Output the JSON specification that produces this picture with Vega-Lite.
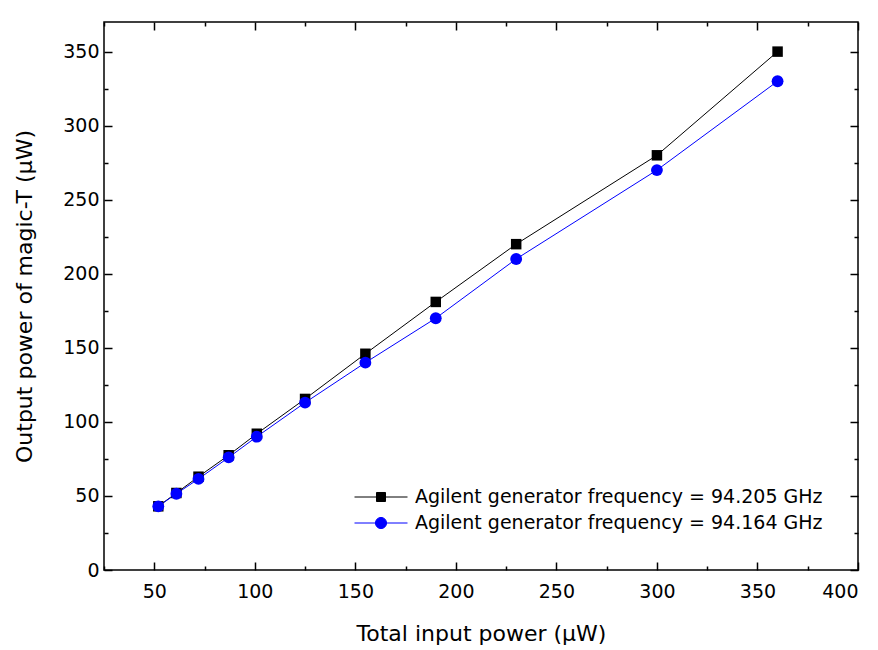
{
  "$schema": "https://vega.github.io/schema/vega-lite/v6.json",
  "width": 754,
  "height": 548,
  "autosize": {"type": "none"},
  "padding": {"left": 104, "top": 22, "right": 20, "bottom": 80},
  "background": "white",
  "config": {
    "font": "DejaVu Sans",
    "view": {"stroke": "black", "strokeWidth": 1.5},
    "axis": {"grid": false, "domain": false, "tickColor": "black", "tickWidth": 1.5, "labelColor": "black", "titleColor": "black", "labelFont": "DejaVu Sans", "titleFont": "DejaVu Sans"}
  },
  "data": {"values": [
    {"x": 52, "y": 43, "s": "Agilent generator frequency = 94.205 GHz"},
    {"x": 61, "y": 52, "s": "Agilent generator frequency = 94.205 GHz"},
    {"x": 72, "y": 63, "s": "Agilent generator frequency = 94.205 GHz"},
    {"x": 87, "y": 77.5, "s": "Agilent generator frequency = 94.205 GHz"},
    {"x": 101, "y": 92, "s": "Agilent generator frequency = 94.205 GHz"},
    {"x": 125, "y": 115.5, "s": "Agilent generator frequency = 94.205 GHz"},
    {"x": 155, "y": 146, "s": "Agilent generator frequency = 94.205 GHz"},
    {"x": 190, "y": 181, "s": "Agilent generator frequency = 94.205 GHz"},
    {"x": 230, "y": 220, "s": "Agilent generator frequency = 94.205 GHz"},
    {"x": 300, "y": 280, "s": "Agilent generator frequency = 94.205 GHz"},
    {"x": 360, "y": 350, "s": "Agilent generator frequency = 94.205 GHz"},
    {"x": 52, "y": 43, "s": "Agilent generator frequency = 94.164 GHz"},
    {"x": 61, "y": 51.5, "s": "Agilent generator frequency = 94.164 GHz"},
    {"x": 72, "y": 61.5, "s": "Agilent generator frequency = 94.164 GHz"},
    {"x": 87, "y": 76, "s": "Agilent generator frequency = 94.164 GHz"},
    {"x": 101, "y": 90, "s": "Agilent generator frequency = 94.164 GHz"},
    {"x": 125, "y": 113, "s": "Agilent generator frequency = 94.164 GHz"},
    {"x": 155, "y": 140, "s": "Agilent generator frequency = 94.164 GHz"},
    {"x": 190, "y": 170, "s": "Agilent generator frequency = 94.164 GHz"},
    {"x": 230, "y": 210, "s": "Agilent generator frequency = 94.164 GHz"},
    {"x": 300, "y": 270, "s": "Agilent generator frequency = 94.164 GHz"},
    {"x": 360, "y": 330, "s": "Agilent generator frequency = 94.164 GHz"}
  ]},
  "resolve": {"axis": {"x": "independent", "y": "independent"}},
  "layer": [
    {
      "mark": {"type": "line", "strokeWidth": 1},
      "encoding": {
        "x": {"field": "x", "type": "quantitative", "scale": {"domain": [25, 400], "nice": false, "zero": false},
          "axis": {"orient": "bottom", "values": [50,100,150,200,250,300,350,400], "tickSize": -8, "labelFontSize": 19, "labelPadding": 20, "title": "Total input power (µW)", "titleFontSize": 22, "titleFontWeight": "normal", "titlePadding": 22}},
        "y": {"field": "y", "type": "quantitative", "scale": {"domain": [0, 370], "nice": false},
          "axis": {"orient": "left", "values": [0,50,100,150,200,250,300,350], "tickSize": -8, "labelFontSize": 19, "labelPadding": 13, "title": "Output power of magic-T (μW)", "titleFontSize": 22, "titleFontWeight": "normal", "titlePadding": 26}},
        "color": {"field": "s", "type": "nominal", "sort": null,
          "scale": {"domain": ["Agilent generator frequency = 94.205 GHz", "Agilent generator frequency = 94.164 GHz"], "range": ["black", "#0000ff"]},
          "legend": {"title": null, "orient": "none", "legendX": 250, "legendY": 464, "labelFontSize": 19, "labelColor": "black", "labelLimit": 0, "symbolSize": 2809, "clipHeight": 22, "rowPadding": 4, "labelOffset": 7,
            "encode": {"symbols": {"update": {
              "shape": {"signal": "datum.value === 'Agilent generator frequency = 94.205 GHz' ? 'M-1,0H-0.17M0.17,0H1M-0.17,-0.17H0.17V0.17H-0.17Z' : 'M-1,0H-0.21M0.21,0H1M0.21,0A0.21,0.21,0,1,1,-0.21,0A0.21,0.21,0,1,1,0.21,0Z'"},
              "fill": {"signal": "scale('color', datum.value)"},
              "stroke": {"signal": "scale('color', datum.value)"},
              "strokeWidth": {"value": 1},
              "opacity": {"value": 1}
            }}}}}
      }
    },
    {
      "transform": [{"filter": "datum.s === 'Agilent generator frequency = 94.205 GHz'"}],
      "mark": {"type": "square", "opacity": 1, "size": 110, "color": "black"},
      "encoding": {
        "x": {"field": "x", "type": "quantitative",
          "axis": {"orient": "bottom", "values": [25,75,125,175,225,275,325,375], "tickSize": -4, "labels": false, "title": null}},
        "y": {"field": "y", "type": "quantitative",
          "axis": {"orient": "left", "values": [25,75,125,175,225,275,325], "tickSize": -4, "labels": false, "title": null}}
      }
    },
    {
      "transform": [{"filter": "datum.s === 'Agilent generator frequency = 94.164 GHz'"}],
      "mark": {"type": "circle", "opacity": 1, "size": 140, "color": "#0000ff"},
      "encoding": {
        "x": {"field": "x", "type": "quantitative",
          "axis": {"orient": "top", "values": [50,100,150,200,250,300,350,400], "tickSize": -8, "labels": false, "title": null}},
        "y": {"field": "y", "type": "quantitative",
          "axis": {"orient": "right", "values": [0,50,100,150,200,250,300,350], "tickSize": -8, "labels": false, "title": null}}
      }
    },
    {
      "mark": {"type": "point", "opacity": 0},
      "encoding": {
        "x": {"field": "x", "type": "quantitative",
          "axis": {"orient": "top", "values": [25,75,125,175,225,275,325,375], "tickSize": -4, "labels": false, "title": null}},
        "y": {"field": "y", "type": "quantitative",
          "axis": {"orient": "right", "values": [25,75,125,175,225,275,325], "tickSize": -4, "labels": false, "title": null}}
      }
    }
  ]
}
